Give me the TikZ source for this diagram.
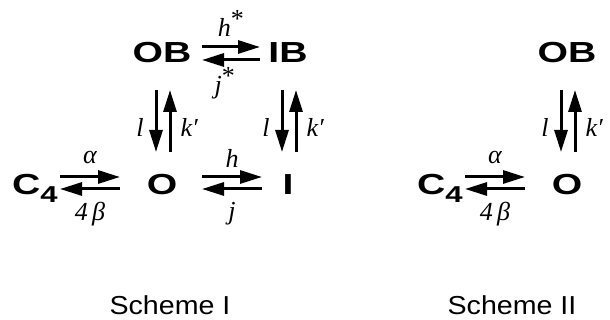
\documentclass[tikz,border=0pt]{standalone}
\usepackage{fontspec}
\usepackage{graphicx}
\usepackage{tikz}
\usetikzlibrary{arrows.meta}
\newfontfamily\spfont{Liberation Sans}
\newfontfamily\ratefont{Liberation Serif}
\newcommand{\species}[1]{\scalebox{1.35}[1]{\spfont\bfseries\fontsize{29}{30}\selectfont #1}}
\newcommand{\rate}[1]{{\ratefont\itshape\fontsize{26}{28}\selectfont #1}}
\newcommand{\bigast}{\textsuperscript{\fontsize{26}{26}\selectfont\upshape *}}
\newcommand{\schemename}[1]{\scalebox{1.1}[1]{\spfont\fontsize{26}{28}\selectfont #1}}

\begin{document}
\begin{tikzpicture}[x=1pt,y=1pt,
    fwd/.style={line width=3pt,-{Triangle[length=22pt,width=13pt]}},
    sp/.style={inner sep=0pt,anchor=base},
    rt/.style={inner sep=0pt}]
  \useasboundingbox (0,0) rectangle (610,320);

  \node[sp] (ob1) at (162,257) {\species{OB}};
  \node[sp] (ib1) at (288,257) {\species{IB}};
  \node[sp,anchor=base west] (c1) at (12,125) {\species{C\raisebox{-8pt}{\fontsize{23}{23}\selectfont 4}}};
  \node[sp] (o1) at (162,125) {\species{O}};
  \node[sp] (i1) at (288,125) {\species{I}};
  \node[anchor=base] (s1) at (170,5) {\schemename{Scheme I}};

  \draw[fwd] ([shift={(40,16)}]ob1.base) -- node[rt,above=9pt] {\rate{h\bigast}} ([shift={(-28,16)}]ib1.base);
  \draw[fwd] ([shift={(-28,3)}]ib1.base) -- node[rt,below=6pt,xshift=-6pt] {\rate{j\bigast}} ([shift={(40,3)}]ob1.base);

  \draw[fwd] ([shift={(-6,-27)}]ob1.base) -- node[rt,left=11pt,yshift=-6pt] {\rate{l}} ([shift={(-6,43)}]o1.base);
  \draw[fwd] ([shift={(8,43)}]o1.base) -- node[rt,right=9pt,yshift=-6pt] {\rate{k′}} ([shift={(8,-27)}]ob1.base);
  \draw[fwd] ([shift={(-6,-27)}]ib1.base) -- node[rt,left=11pt,yshift=-6pt] {\rate{l}} ([shift={(-6,43)}]i1.base);
  \draw[fwd] ([shift={(8,43)}]i1.base) -- node[rt,right=9pt,yshift=-6pt] {\rate{k′}} ([shift={(8,-27)}]ib1.base);

  \draw[fwd] ([shift={(48,18)}]c1.base west) -- node[rt,above=12pt] {\rate{α}} ([shift={(-42,18)}]o1.base);
  \draw[fwd] ([shift={(-42,6)}]o1.base) -- node[rt,below=12pt] {\rate{4\,β}} ([shift={(48,6)}]c1.base west);
  \draw[fwd] ([shift={(40,18)}]o1.base) -- node[rt,above=8pt] {\rate{h}} ([shift={(-26,18)}]i1.base);
  \draw[fwd] ([shift={(-26,6)}]i1.base) -- node[rt,below=12pt] {\rate{j}} ([shift={(40,6)}]o1.base);

  \node[sp] (ob2) at (567,257) {\species{OB}};
  \node[sp,anchor=base west] (c2) at (417,125) {\species{C\raisebox{-8pt}{\fontsize{23}{23}\selectfont 4}}};
  \node[sp] (o2) at (567,125) {\species{O}};
  \node[anchor=base] (s2) at (512,5) {\schemename{Scheme II}};

  \draw[fwd] ([shift={(-6,-27)}]ob2.base) -- node[rt,left=11pt,yshift=-6pt] {\rate{l}} ([shift={(-6,43)}]o2.base);
  \draw[fwd] ([shift={(8,43)}]o2.base) -- node[rt,right=9pt,yshift=-6pt] {\rate{k′}} ([shift={(8,-27)}]ob2.base);
  \draw[fwd] ([shift={(48,18)}]c2.base west) -- node[rt,above=12pt] {\rate{α}} ([shift={(-42,18)}]o2.base);
  \draw[fwd] ([shift={(-42,6)}]o2.base) -- node[rt,below=12pt] {\rate{4\,β}} ([shift={(48,6)}]c2.base west);
\end{tikzpicture}
\end{document}
